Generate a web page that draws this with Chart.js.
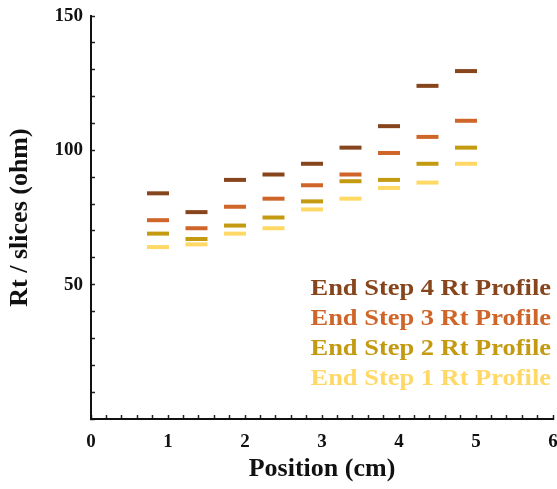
<!DOCTYPE html>
<html>
<head>
    <title>Rt Profile</title>
    <script src="https://cdn.jsdelivr.net/npm/chart.js"></script>
    <style>
        body { margin: 0; background: #fff; }
    </style>
</head>
<body>
    <canvas id="rtChart" width="557" height="489"></canvas>

    <script>
        // positions of the slices (cm)
        const positions = [0.87, 1.37, 1.87, 2.37, 2.87, 3.37, 3.87, 4.37, 4.87];

        // Rt per slice (ohm) at the end of each step
        const step4 = [84, 77, 89, 91, 95, 101, 109, 124, 129.5];
        const step3 = [74, 71, 79, 82, 87, 91, 99, 105, 111];
        const step2 = [69, 67, 72, 75, 81, 88.5, 89, 95, 101];
        const step1 = [64, 65, 69, 71, 78, 82, 86, 88, 95];

        const seriesLabels = ['End Step 4 Rt Profile', 'End Step 3 Rt Profile', 'End Step 2 Rt Profile', 'End Step 1 Rt Profile'];
        const seriesColors = ['#86451c', '#d0652a', '#c39a10', '#ffd865'];
        const yLabelTicks = [50, 100, 150];

        const serif = "'Liberation Serif', 'Times New Roman', serif";

        function toPoints(values) {
            return values.map((v, i) => ({ x: positions[i], y: v }));
        }

        const allSeries = [step4, step3, step2, step1];
        const datasets = allSeries.map((values, i) => ({
            label: seriesLabels[i],
            data: toPoints(values),
            pointStyle: 'line',
            pointRadius: 11,
            pointHoverRadius: 11,
            pointBorderWidth: 4,
            borderColor: seriesColors[i],
            backgroundColor: seriesColors[i],
            showLine: false
        }));

        // coloured text legend inside the plot, bottom right
        const textLegend = {
            id: 'textLegend',
            afterDraw(chart) {
                const ctx = chart.ctx;
                ctx.save();
                ctx.font = 'bold 23px ' + serif;
                ctx.textAlign = 'right';
                ctx.textBaseline = 'middle';
                chart.data.datasets.forEach((ds, i) => {
                    ctx.save();
                    ctx.translate(551, 289 + i * 30);
                    ctx.scale(1.15, 1);
                    ctx.fillStyle = ds.borderColor;
                    ctx.fillText(ds.label, 0, 0);
                    ctx.restore();
                });
                ctx.restore();
            }
        };

        new Chart(document.getElementById('rtChart'), {
            type: 'scatter',
            data: { datasets: datasets },
            plugins: [textLegend],
            options: {
                responsive: false,
                animation: false,
                layout: { autoPadding: false, padding: { top: 16, right: 4, left: 0, bottom: 0 } },
                plugins: {
                    legend: { display: false },
                    tooltip: { enabled: false }
                },
                scales: {
                    x: {
                        type: 'linear',
                        min: 0,
                        max: 6,
                        afterFit: s => { s.height = 70; s.paddingLeft = 0; s.paddingRight = 0; },
                        border: { color: '#111', width: 2 },
                        grid: { drawOnChartArea: false, tickLength: -4, tickColor: '#222', tickWidth: 1.5 },
                        ticks: {
                            stepSize: 0.2,
                            autoSkip: false,
                            maxRotation: 0,
                            padding: 16,
                            color: '#111',
                            font: { family: serif, size: 19, weight: 'bold' },
                            callback: v => Math.abs(v - Math.round(v)) < 1e-6 ? Math.round(v) : ''
                        },
                        title: {
                            display: true,
                            text: 'Position (cm)',
                            color: '#111',
                            font: { family: serif, size: 26, weight: 'bold' },
                            padding: { top: 0, bottom: 4 }
                        }
                    },
                    y: {
                        min: 0,
                        max: 150,
                        afterFit: s => { s.width = 91; s.paddingTop = 0; s.paddingBottom = 0; },
                        border: { color: '#111', width: 2 },
                        grid: { drawOnChartArea: false, tickLength: -4, tickColor: '#222', tickWidth: 1.5 },
                        ticks: {
                            stepSize: 10,
                            autoSkip: false,
                            padding: 12,
                            color: '#111',
                            font: { family: serif, size: 19, weight: 'bold' },
                            callback: v => yLabelTicks.includes(v) ? v : ''
                        },
                        title: {
                            display: true,
                            text: 'Rt / slices (ohm)',
                            color: '#111',
                            font: { family: serif, size: 26, weight: 'bold' },
                            padding: { top: 5, bottom: 0 }
                        }
                    }
                }
            }
        });
    </script>
</body>
</html>
